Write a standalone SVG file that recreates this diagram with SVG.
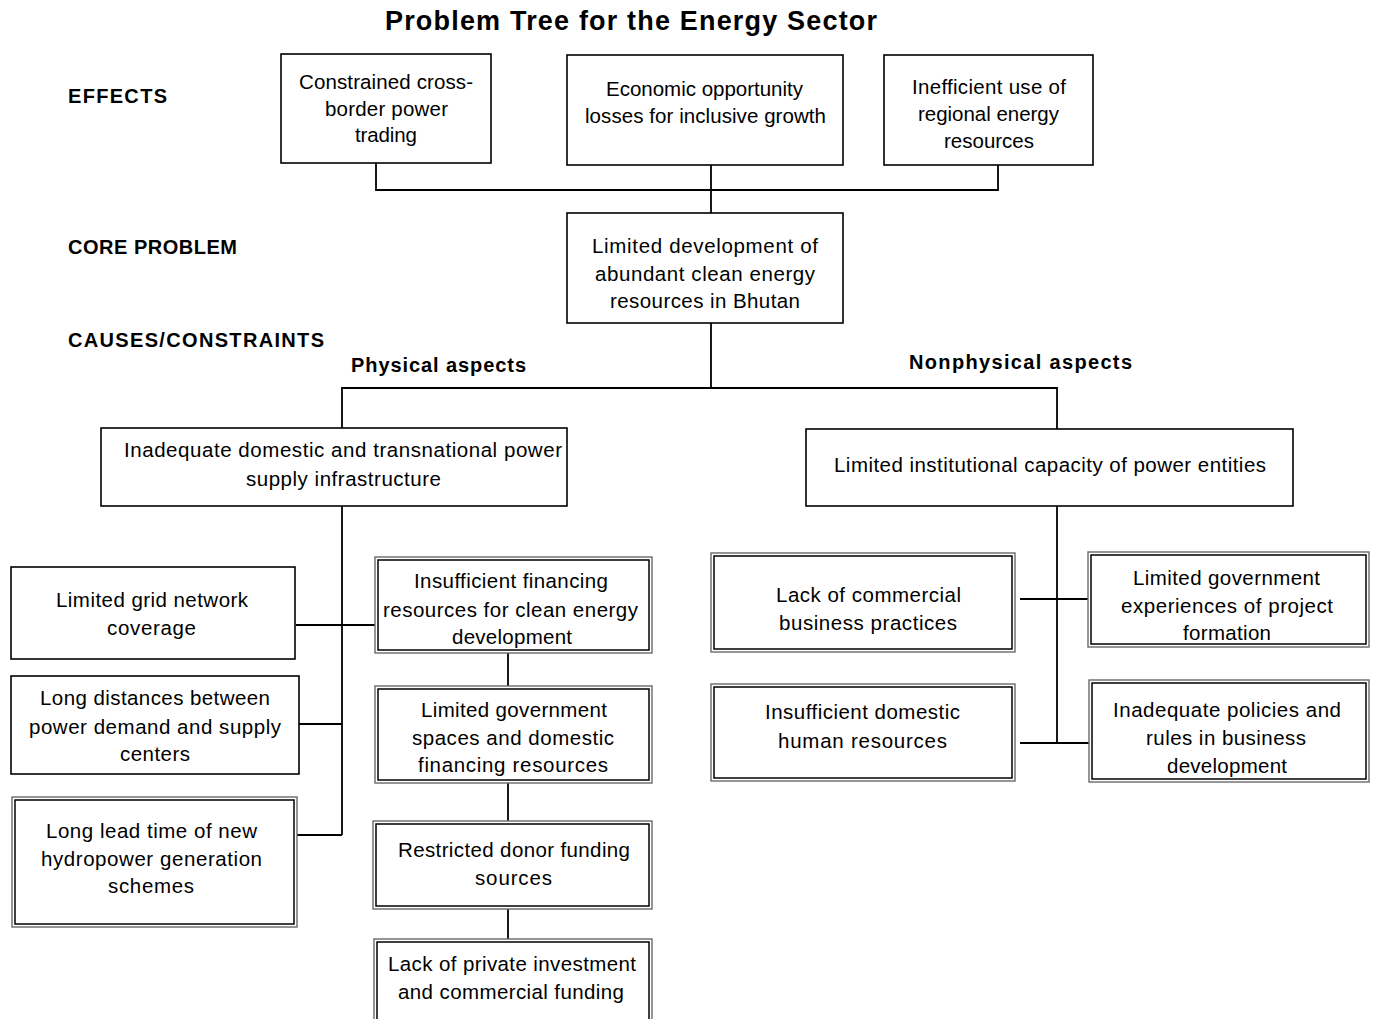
<svg xmlns="http://www.w3.org/2000/svg" width="1380" height="1019" viewBox="0 0 1380 1019">
<style>
.bg{fill:#fff}
.box{fill:#fff;stroke:#000;stroke-width:1.6}
.outer{fill:#fff;stroke:#6a6a6a;stroke-width:1.4}
.inner{fill:none;stroke:#000;stroke-width:1.5}
.t{font-family:"Liberation Sans",Arial,sans-serif;font-size:20.5px;fill:#000;text-anchor:middle}
.h{font-family:"Liberation Sans",Arial,sans-serif;font-size:20px;font-weight:bold;fill:#000}
.ttl{font-family:"Liberation Sans",Arial,sans-serif;font-size:27px;font-weight:bold;fill:#000;text-anchor:middle}
.c{fill:none;stroke:#000;stroke-width:1.8}
</style>
<rect class="bg" x="0" y="0" width="1380" height="1019"/>
<text class="ttl" x="631" y="30" textLength="492">Problem Tree for the Energy Sector</text>
<text class="h" x="68" y="103" textLength="99">EFFECTS</text>
<text class="h" x="68" y="254" textLength="169">CORE PROBLEM</text>
<text class="h" x="68" y="347" textLength="256">CAUSES/CONSTRAINTS</text>
<text class="h" x="351" y="372" textLength="175">Physical aspects</text>
<text class="h" x="909" y="369" textLength="223">Nonphysical aspects</text>

<g id="connectors">
<polyline class="c" points="376,163 376,190 998,190 998,165"/>
<line class="c" x1="711" y1="165" x2="711" y2="213"/>
<line class="c" x1="711" y1="323" x2="711" y2="388"/>
<polyline class="c" points="342,428 342,388 1057,388 1057,429"/>
<line class="c" x1="342" y1="506" x2="342" y2="835"/>
<line class="c" x1="296" y1="625" x2="376" y2="625"/>
<line class="c" x1="299" y1="724" x2="342" y2="724"/>
<line class="c" x1="297" y1="835" x2="342" y2="835"/>
<line class="c" x1="508" y1="653" x2="508" y2="686"/>
<line class="c" x1="508" y1="783" x2="508" y2="821"/>
<line class="c" x1="508" y1="909" x2="508" y2="939"/>
<line class="c" x1="1057" y1="506" x2="1057" y2="743"/>
<line class="c" x1="1020" y1="599" x2="1092" y2="599"/>
<line class="c" x1="1020" y1="743" x2="1092" y2="743"/>
</g>

<g id="effect1"><rect class="box" x="281" y="54" width="210" height="109"/>
<text class="t" x="386" y="89" textLength="174">Constrained cross-</text><text class="t" x="386.5" y="116" textLength="123">border power</text><text class="t" x="386" y="142" textLength="62">trading</text></g>
<g id="effect2"><rect class="box" x="567" y="55" width="276" height="110"/>
<text class="t" x="704.5" y="96" textLength="197">Economic opportunity</text><text class="t" x="705.5" y="123" textLength="241">losses for inclusive growth</text></g>
<g id="effect3"><rect class="box" x="884" y="55" width="209" height="110"/>
<text class="t" x="989" y="94" textLength="154">Inefficient use of</text><text class="t" x="988.5" y="121" textLength="141">regional energy</text><text class="t" x="989" y="148" textLength="90">resources</text></g>

<g id="core"><rect class="box" x="567" y="213" width="276" height="110"/>
<text class="t" x="705" y="253" textLength="226">Limited development of</text><text class="t" x="705" y="281" textLength="220">abundant clean energy</text><text class="t" x="705" y="308" textLength="190">resources in Bhutan</text></g>

<g id="physical"><rect class="box" x="101" y="428" width="466" height="78"/>
<text class="t" x="343" y="457" textLength="438">Inadequate domestic and transnational power</text><text class="t" x="343.5" y="486" textLength="195">supply infrastructure</text></g>
<g id="nonphysical"><rect class="box" x="806" y="429" width="487" height="77"/>
<text class="t" x="1050" y="472" textLength="432">Limited institutional capacity of power entities</text></g>

<g id="grid"><rect class="box" x="11" y="567" width="284" height="92"/>
<text class="t" x="152" y="607" textLength="192">Limited grid network</text><text class="t" x="151.5" y="635" textLength="89">coverage</text></g>
<g id="distances"><rect class="box" x="11" y="676" width="288" height="98"/>
<text class="t" x="155" y="705" textLength="230">Long distances between</text><text class="t" x="155" y="734" textLength="252">power demand and supply</text><text class="t" x="155" y="761" textLength="70">centers</text></g>
<g id="leadtime"><rect class="outer" x="12" y="797" width="285" height="130"/><rect class="inner" x="15" y="800" width="279" height="124"/>
<text class="t" x="151.5" y="838" textLength="211">Long lead time of new</text><text class="t" x="151.5" y="866" textLength="221">hydropower generation</text><text class="t" x="151" y="893" textLength="86">schemes</text></g>

<g id="financing"><rect class="outer" x="375" y="557" width="277" height="96"/><rect class="inner" x="378" y="560" width="271" height="90"/>
<text class="t" x="511" y="588" textLength="194">Insufficient financing</text><text class="t" x="510.5" y="617" textLength="255">resources for clean energy</text><text class="t" x="512" y="644" textLength="120">development</text></g>
<g id="govspaces"><rect class="outer" x="375" y="686" width="277" height="97"/><rect class="inner" x="378" y="689" width="271" height="91"/>
<text class="t" x="514" y="717" textLength="186">Limited government</text><text class="t" x="513" y="745" textLength="202">spaces and domestic</text><text class="t" x="513" y="772" textLength="190">financing resources</text></g>
<g id="donor"><rect class="outer" x="373" y="821" width="279" height="88"/><rect class="inner" x="376" y="824" width="273" height="82"/>
<text class="t" x="514" y="857" textLength="232">Restricted donor funding</text><text class="t" x="513.5" y="885" textLength="77">sources</text></g>
<g id="private"><rect class="outer" x="374" y="939" width="278" height="90"/><rect class="inner" x="377" y="942" width="272" height="84"/>
<text class="t" x="512" y="971" textLength="248">Lack of private investment</text><text class="t" x="511" y="999" textLength="226">and commercial funding</text></g>

<g id="commercial"><rect class="outer" x="711" y="553" width="304" height="99"/><rect class="inner" x="714" y="556" width="298" height="93"/>
<text class="t" x="868.5" y="602" textLength="185">Lack of commercial</text><text class="t" x="868" y="630" textLength="178">business practices</text></g>
<g id="human"><rect class="outer" x="711" y="684" width="304" height="97"/><rect class="inner" x="714" y="687" width="298" height="91"/>
<text class="t" x="862.5" y="719" textLength="195">Insufficient domestic</text><text class="t" x="862.5" y="748" textLength="169">human resources</text></g>
<g id="govexp"><rect class="outer" x="1088" y="552" width="281" height="95"/><rect class="inner" x="1091" y="555" width="275" height="89"/>
<text class="t" x="1226.5" y="585" textLength="187">Limited government</text><text class="t" x="1227" y="613" textLength="212">experiences of project</text><text class="t" x="1227" y="640" textLength="88">formation</text></g>
<g id="policies"><rect class="outer" x="1089" y="680" width="280" height="102"/><rect class="inner" x="1092" y="683" width="274" height="96"/>
<text class="t" x="1227" y="717" textLength="228">Inadequate policies and</text><text class="t" x="1226" y="745" textLength="160">rules in business</text><text class="t" x="1227" y="773" textLength="120">development</text></g>
</svg>
